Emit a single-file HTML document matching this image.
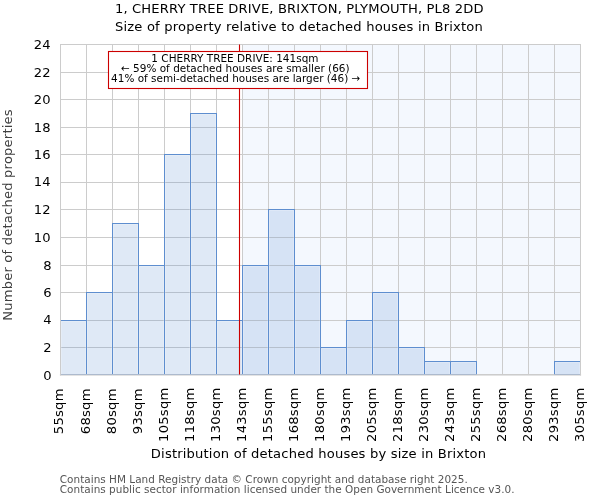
<!DOCTYPE html>
<html lang="en"><head><meta charset="utf-8"><title>1, CHERRY TREE DRIVE, BRIXTON, PLYMOUTH, PL8 2DD</title>
<style>html,body{margin:0;padding:0;background:#fff}svg{display:block}text{font-family:"DejaVu Sans","Liberation Sans",sans-serif}</style>
</head><body>
<svg width="600" height="500" viewBox="0 0 600 500">
<rect width="600" height="500" fill="#fff"/>
<rect x="242.5" y="44.5" width="338" height="330" fill="#6a97f0" fill-opacity="0.07"/>
<g stroke="#cccccc" stroke-width="1" shape-rendering="crispEdges">
<line x1="60.5" y1="44.5" x2="60.5" y2="374.5"/>
<line x1="86.5" y1="44.5" x2="86.5" y2="374.5"/>
<line x1="112.5" y1="44.5" x2="112.5" y2="374.5"/>
<line x1="138.5" y1="44.5" x2="138.5" y2="374.5"/>
<line x1="164.5" y1="44.5" x2="164.5" y2="374.5"/>
<line x1="190.5" y1="44.5" x2="190.5" y2="374.5"/>
<line x1="216.5" y1="44.5" x2="216.5" y2="374.5"/>
<line x1="242.5" y1="44.5" x2="242.5" y2="374.5"/>
<line x1="268.5" y1="44.5" x2="268.5" y2="374.5"/>
<line x1="294.5" y1="44.5" x2="294.5" y2="374.5"/>
<line x1="320.5" y1="44.5" x2="320.5" y2="374.5"/>
<line x1="346.5" y1="44.5" x2="346.5" y2="374.5"/>
<line x1="372.5" y1="44.5" x2="372.5" y2="374.5"/>
<line x1="398.5" y1="44.5" x2="398.5" y2="374.5"/>
<line x1="424.5" y1="44.5" x2="424.5" y2="374.5"/>
<line x1="450.5" y1="44.5" x2="450.5" y2="374.5"/>
<line x1="476.5" y1="44.5" x2="476.5" y2="374.5"/>
<line x1="502.5" y1="44.5" x2="502.5" y2="374.5"/>
<line x1="528.5" y1="44.5" x2="528.5" y2="374.5"/>
<line x1="554.5" y1="44.5" x2="554.5" y2="374.5"/>
<line x1="580.5" y1="44.5" x2="580.5" y2="374.5"/>
<line x1="60" y1="374.5" x2="581" y2="374.5"/>
<line x1="60" y1="347.5" x2="581" y2="347.5"/>
<line x1="60" y1="320.5" x2="581" y2="320.5"/>
<line x1="60" y1="292.5" x2="581" y2="292.5"/>
<line x1="60" y1="265.5" x2="581" y2="265.5"/>
<line x1="60" y1="237.5" x2="581" y2="237.5"/>
<line x1="60" y1="209.5" x2="581" y2="209.5"/>
<line x1="60" y1="182.5" x2="581" y2="182.5"/>
<line x1="60" y1="154.5" x2="581" y2="154.5"/>
<line x1="60" y1="127.5" x2="581" y2="127.5"/>
<line x1="60" y1="99.5" x2="581" y2="99.5"/>
<line x1="60" y1="72.5" x2="581" y2="72.5"/>
<line x1="60" y1="44.5" x2="581" y2="44.5"/>
</g>
<g fill="#6a97d6" fill-opacity="0.21">
<rect x="60.5" y="320.5" width="26.0" height="54.0"/>
<rect x="86.5" y="292.5" width="26.0" height="82.0"/>
<rect x="112.5" y="223.5" width="26.0" height="151.0"/>
<rect x="138.5" y="265.5" width="26.0" height="109.0"/>
<rect x="164.5" y="154.5" width="26.0" height="220.0"/>
<rect x="190.5" y="113.5" width="26.0" height="261.0"/>
<rect x="216.5" y="320.5" width="26.0" height="54.0"/>
<rect x="242.5" y="265.5" width="26.0" height="109.0"/>
<rect x="268.5" y="209.5" width="26.0" height="165.0"/>
<rect x="294.5" y="265.5" width="26.0" height="109.0"/>
<rect x="320.5" y="347.5" width="26.0" height="27.0"/>
<rect x="346.5" y="320.5" width="26.0" height="54.0"/>
<rect x="372.5" y="292.5" width="26.0" height="82.0"/>
<rect x="398.5" y="347.5" width="26.0" height="27.0"/>
<rect x="424.5" y="361.5" width="26.0" height="13.0"/>
<rect x="450.5" y="361.5" width="26.0" height="13.0"/>
<rect x="554.5" y="361.5" width="26.0" height="13.0"/>
</g>
<g fill="none" stroke="#ffffff" stroke-opacity="0.2" stroke-width="1">
<path d="M61.5,374V321.5H85.5V374"/>
<path d="M87.5,374V293.5H111.5V374"/>
<path d="M113.5,374V224.5H137.5V374"/>
<path d="M139.5,374V266.5H163.5V374"/>
<path d="M165.5,374V155.5H189.5V374"/>
<path d="M191.5,374V114.5H215.5V374"/>
<path d="M217.5,374V321.5H241.5V374"/>
<path d="M243.5,374V266.5H267.5V374"/>
<path d="M269.5,374V210.5H293.5V374"/>
<path d="M295.5,374V266.5H319.5V374"/>
<path d="M321.5,374V348.5H345.5V374"/>
<path d="M347.5,374V321.5H371.5V374"/>
<path d="M373.5,374V293.5H397.5V374"/>
<path d="M399.5,374V348.5H423.5V374"/>
<path d="M425.5,374V362.5H449.5V374"/>
<path d="M451.5,374V362.5H475.5V374"/>
<path d="M555.5,374V362.5H579.5V374"/>
</g>
<g fill="none" stroke="#5e8ecf" stroke-width="1">
<rect x="60.5" y="320.5" width="26.0" height="54.0"/>
<rect x="86.5" y="292.5" width="26.0" height="82.0"/>
<rect x="112.5" y="223.5" width="26.0" height="151.0"/>
<rect x="138.5" y="265.5" width="26.0" height="109.0"/>
<rect x="164.5" y="154.5" width="26.0" height="220.0"/>
<rect x="190.5" y="113.5" width="26.0" height="261.0"/>
<rect x="216.5" y="320.5" width="26.0" height="54.0"/>
<rect x="242.5" y="265.5" width="26.0" height="109.0"/>
<rect x="268.5" y="209.5" width="26.0" height="165.0"/>
<rect x="294.5" y="265.5" width="26.0" height="109.0"/>
<rect x="320.5" y="347.5" width="26.0" height="27.0"/>
<rect x="346.5" y="320.5" width="26.0" height="54.0"/>
<rect x="372.5" y="292.5" width="26.0" height="82.0"/>
<rect x="398.5" y="347.5" width="26.0" height="27.0"/>
<rect x="424.5" y="361.5" width="26.0" height="13.0"/>
<rect x="450.5" y="361.5" width="26.0" height="13.0"/>
<rect x="554.5" y="361.5" width="26.0" height="13.0"/>
</g>
<g stroke="#cccccc" stroke-width="1" fill="none"><path d="M60.5,375.4V44.5H580.5V375.4"/><path d="M59.9,374.95H581.1" stroke-width="1.8" stroke-opacity="0.72"/></g>
<line x1="239.5" y1="44.5" x2="239.5" y2="374.5" stroke="#cc0000" stroke-width="1.1"/>
<rect x="108.5" y="51.5" width="259" height="37" fill="#fff" stroke="#cc0000" stroke-width="1.1"/>
<g font-size="10.45">
<text x="151.3" y="62" textLength="167.2" lengthAdjust="spacing">1 CHERRY TREE DRIVE: 141sqm</text>
<text x="121.0" y="72" textLength="228.6" lengthAdjust="spacing">← 59% of detached houses are smaller (66)</text>
<text x="111.1" y="82" textLength="249.2" lengthAdjust="spacing">41% of semi-detached houses are larger (46) →</text>
</g>
<g font-size="13.1" letter-spacing="0.14" text-anchor="end">
<text x="51.7" y="380">0</text>
<text x="51.7" y="352">2</text>
<text x="51.7" y="324">4</text>
<text x="51.7" y="297">6</text>
<text x="51.7" y="270">8</text>
<text x="50.7" y="242">10</text>
<text x="50.7" y="214">12</text>
<text x="50.7" y="186">14</text>
<text x="50.7" y="159">16</text>
<text x="50.7" y="132">18</text>
<text x="50.7" y="104">20</text>
<text x="50.7" y="77">22</text>
<text x="50.7" y="49">24</text>
</g>
<g font-size="13.1" text-anchor="end">
<text transform="translate(63.3,388.6) rotate(-90)" textLength="45.63" lengthAdjust="spacing">55sqm</text>
<text transform="translate(89.7,388.6) rotate(-90)" textLength="45.63" lengthAdjust="spacing">68sqm</text>
<text transform="translate(115.7,388.6) rotate(-90)" textLength="45.63" lengthAdjust="spacing">80sqm</text>
<text transform="translate(141.7,388.6) rotate(-90)" textLength="45.63" lengthAdjust="spacing">93sqm</text>
<text transform="translate(167.7,387.8) rotate(-90)" textLength="54.16" lengthAdjust="spacing">105sqm</text>
<text transform="translate(193.7,387.8) rotate(-90)" textLength="54.16" lengthAdjust="spacing">118sqm</text>
<text transform="translate(219.7,387.8) rotate(-90)" textLength="54.16" lengthAdjust="spacing">130sqm</text>
<text transform="translate(245.7,387.8) rotate(-90)" textLength="54.16" lengthAdjust="spacing">143sqm</text>
<text transform="translate(271.7,387.8) rotate(-90)" textLength="54.16" lengthAdjust="spacing">155sqm</text>
<text transform="translate(297.7,387.8) rotate(-90)" textLength="54.16" lengthAdjust="spacing">168sqm</text>
<text transform="translate(323.7,387.8) rotate(-90)" textLength="54.16" lengthAdjust="spacing">180sqm</text>
<text transform="translate(349.7,387.8) rotate(-90)" textLength="54.16" lengthAdjust="spacing">193sqm</text>
<text transform="translate(375.7,387.8) rotate(-90)" textLength="54.16" lengthAdjust="spacing">205sqm</text>
<text transform="translate(401.7,387.8) rotate(-90)" textLength="54.16" lengthAdjust="spacing">218sqm</text>
<text transform="translate(427.7,387.8) rotate(-90)" textLength="54.16" lengthAdjust="spacing">230sqm</text>
<text transform="translate(453.7,387.8) rotate(-90)" textLength="54.16" lengthAdjust="spacing">243sqm</text>
<text transform="translate(479.7,387.8) rotate(-90)" textLength="54.16" lengthAdjust="spacing">255sqm</text>
<text transform="translate(505.7,387.8) rotate(-90)" textLength="54.16" lengthAdjust="spacing">268sqm</text>
<text transform="translate(531.7,387.8) rotate(-90)" textLength="54.16" lengthAdjust="spacing">280sqm</text>
<text transform="translate(557.7,387.8) rotate(-90)" textLength="54.16" lengthAdjust="spacing">293sqm</text>
<text transform="translate(583.7,387.8) rotate(-90)" textLength="54.16" lengthAdjust="spacing">305sqm</text>
</g>
<g font-size="13.1">
<text x="115" y="13" textLength="368.6" lengthAdjust="spacing">1, CHERRY TREE DRIVE, BRIXTON, PLYMOUTH, PL8 2DD</text>
<text x="115" y="31" textLength="367.8" lengthAdjust="spacing">Size of property relative to detached houses in Brixton</text>
<text x="150.8" y="458" textLength="335.3" lengthAdjust="spacing">Distribution of detached houses by size in Brixton</text>
<text transform="translate(12.4,320.8) rotate(-90)" textLength="211.5" lengthAdjust="spacing" fill="#404040">Number of detached properties</text>
</g>
<g font-size="10.45">
<text x="59.8" y="483" fill="#555555" textLength="408" lengthAdjust="spacing">Contains HM Land Registry data © Crown copyright and database right 2025.</text>
<text x="59.8" y="493" fill="#555555" textLength="454.7" lengthAdjust="spacing">Contains public sector information licensed under the Open Government Licence v3.0.</text>
</g>
</svg></body></html>
